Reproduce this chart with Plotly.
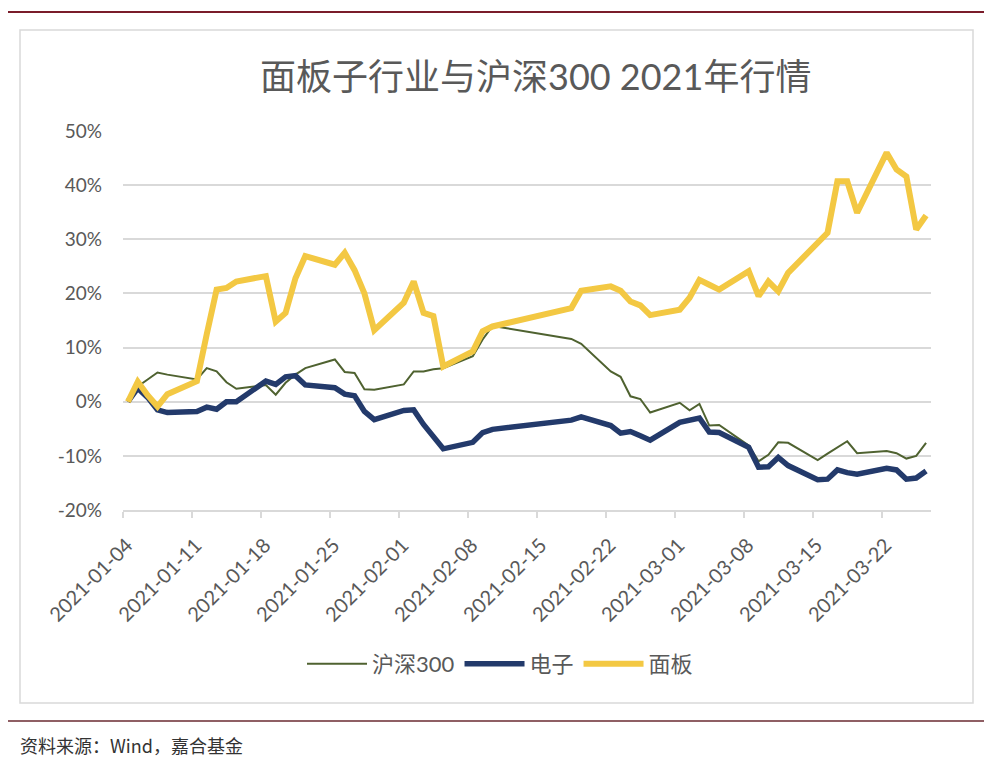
import pandas as pd
import plotly.graph_objects as go

# ---------------- data ----------------
dates = [
    "2021-01-04", "2021-01-05", "2021-01-06", "2021-01-07", "2021-01-08",
    "2021-01-11", "2021-01-12", "2021-01-13", "2021-01-14", "2021-01-15",
    "2021-01-18", "2021-01-19", "2021-01-20", "2021-01-21", "2021-01-22",
    "2021-01-25", "2021-01-26", "2021-01-27", "2021-01-28", "2021-01-29",
    "2021-02-01", "2021-02-02", "2021-02-03", "2021-02-04", "2021-02-05",
    "2021-02-08", "2021-02-09", "2021-02-10", "2021-02-18", "2021-02-19",
    "2021-02-22", "2021-02-23", "2021-02-24", "2021-02-25", "2021-02-26",
    "2021-03-01", "2021-03-02", "2021-03-03", "2021-03-04", "2021-03-05",
    "2021-03-08", "2021-03-09", "2021-03-10", "2021-03-11", "2021-03-12",
    "2021-03-15", "2021-03-16", "2021-03-17", "2021-03-18", "2021-03-19",
    "2021-03-22", "2021-03-23", "2021-03-24", "2021-03-25", "2021-03-26",
]

hs300 = [
    0.0, 2.8, 4.1, 5.4, 5.0,
    4.1, 6.2, 5.6, 3.6, 2.4,
    3.1, 1.3, 3.5, 5.0, 6.2,
    7.8, 5.5, 5.3, 2.3, 2.2,
    3.2, 5.6, 5.6, 6.0, 6.2,
    8.4, 11.5, 14.0, 11.6, 10.7,
    5.6, 4.6, 1.0, 0.5, -2.0,
    -0.2, -1.6, -0.4, -4.4, -4.3,
    -8.1, -11.0, -9.8, -7.5, -7.6,
    -10.8, -9.6, -8.4, -7.3, -9.5,
    -9.1, -9.5, -10.5, -10.0, -7.6,
]

electronics = [
    0.0, 2.5, 0.8, -1.5, -2.0,
    -1.8, -1.0, -1.4, 0.0, 0.0,
    3.8, 3.2, 4.6, 4.8, 3.1,
    2.6, 1.4, 1.1, -1.8, -3.3,
    -1.6, -1.5, -4.2, -6.3, -8.7,
    -7.5, -5.7, -5.1, -3.4, -2.8,
    -4.4, -5.8, -5.5, -6.3, -7.1,
    -3.8, -3.3, -3.0, -5.6, -5.7,
    -8.4, -12.1, -12.0, -10.3, -11.8,
    -14.4, -14.3, -12.6, -13.1, -13.4,
    -12.3, -12.6, -14.3, -14.1, -12.8,
]

panel = [
    0.0, 3.7, 1.2, -0.9, 1.4,
    3.8, 12.5, 20.7, 21.0, 22.2,
    23.2, 14.8, 16.4, 22.8, 26.9,
    25.3, 27.5, 24.3, 20.0, 13.2,
    18.3, 22.2, 16.4, 15.8, 6.5,
    9.3, 13.0, 13.9, 17.3, 20.5,
    21.3, 20.5, 18.5, 17.8, 16.0,
    17.0, 19.2, 22.5, 21.6, 20.7,
    24.1, 19.5, 22.2, 20.4, 23.8,
    29.5, 31.2, 40.7, 40.7, 34.9,
    46.0, 42.9, 41.6, 31.8, 34.4,
]

series_names = ["沪深300", "电子", "面板"]
tick_labels = [
    "2021-01-04", "2021-01-11", "2021-01-18", "2021-01-25", "2021-02-01",
    "2021-02-08", "2021-02-15", "2021-02-22", "2021-03-01", "2021-03-08",
    "2021-03-15", "2021-03-22",
]
y_ticks = [-20, -10, 0, 10, 20, 30, 40, 50]

title_text = "面板子行业与沪深300 2021年行情"
source_text = "资料来源：Wind，嘉合基金"

# ---------------- styling ----------------
FONT = "Lato, 'Noto Sans CJK SC', sans-serif"
CJK = "'Noto Sans CJK SC', sans-serif"
TXT = "#595959"
GRID = "#d9d9d9"

# Excel date axis: points sit in the middle of each day, ticks at day start
x_dates = pd.to_datetime(dates)
tick_vals = pd.to_datetime(tick_labels) - pd.Timedelta(hours=12)
x_start = pd.to_datetime(dates[0]) - pd.Timedelta(hours=12)
x_end = pd.to_datetime(dates[-1]) + pd.Timedelta(hours=12)

fig = go.Figure()
fig.add_trace(go.Scatter(x=x_dates, y=hs300, mode="lines", name=series_names[0],
                         line=dict(color="#4f6230", width=2)))
fig.add_trace(go.Scatter(x=x_dates, y=electronics, mode="lines", name=series_names[1],
                         line=dict(color="#233a6b", width=5.5)))
fig.add_trace(go.Scatter(x=x_dates, y=panel, mode="lines", name=series_names[2],
                         line=dict(color="#f3c843", width=6)))

# page has an 8px body margin: convert page pixel positions to figure pixels
OFF = 8
W, H = 992 - OFF, 757 - OFF
L, R, T, B = 123 - OFF, 931 - OFF, 131 - OFF, 510 - OFF
pw, ph = R - L, B - T


def px(xp):
    return (xp - OFF - L) / pw


def py(yp):
    return (B - (yp - OFF)) / ph


shapes = [
    # chart frame
    dict(type="rect", xref="paper", yref="paper", x0=px(20), x1=px(973), y0=py(703), y1=py(30),
         line=dict(color="#d9d9d9", width=1.5), layer="below"),
    # top rule
    dict(type="line", xref="paper", yref="paper", x0=px(8), x1=px(989), y0=py(12), y1=py(12),
         line=dict(color="#7a1c2a", width=2)),
    # bottom rule
    dict(type="line", xref="paper", yref="paper", x0=px(8), x1=px(989), y0=py(721), y1=py(721),
         line=dict(color="#6a2a30", width=1.5)),
]

annotations = [
    dict(text=title_text, xref="paper", yref="paper", x=px(535), y=py(76),
         xanchor="center", yanchor="middle", showarrow=False,
         font=dict(family=FONT, size=36, color=TXT)),
    dict(text=source_text, xref="paper", yref="paper", x=px(18), y=py(745),
         xanchor="left", yanchor="middle", showarrow=False,
         font=dict(family=CJK, size=18, color="#333333")),
]

fig.update_layout(
    width=W, height=H,
    margin=dict(l=L, r=W - R, t=T, b=H - B, pad=0),
    paper_bgcolor="white", plot_bgcolor="white",
    font=dict(family=FONT, color=TXT),
    shapes=shapes,
    annotations=annotations,
    showlegend=True,
    legend=dict(orientation="h", x=px(500), y=py(664), xanchor="center", yanchor="middle",
                font=dict(family=FONT, size=22, color=TXT), itemwidth=60,
                bgcolor="rgba(0,0,0,0)", traceorder="normal"),
)

fig.update_xaxes(
    type="date", range=[x_start, x_end],
    tickmode="array", tickvals=tick_vals, ticktext=tick_labels,
    tickangle=-45, tickfont=dict(family=FONT, size=20, color=TXT),
    showgrid=False, zeroline=False,
    showline=True, linecolor=GRID, linewidth=1.5,
    ticks="outside", ticklen=6, tickcolor=GRID, tickwidth=1.5,
    ticklabelstandoff=8, ticklabelshift=4,
)

fig.update_yaxes(
    range=[-20, 50], tickmode="array", tickvals=y_ticks,
    ticktext=[f"{v}%" for v in y_ticks],
    tickfont=dict(family=FONT, size=19, color=TXT),
    showgrid=True, gridcolor=GRID, gridwidth=1.5,
    zeroline=False, showline=False, ticks="", ticklabelstandoff=20,
)

fig.write_html("out.html")
